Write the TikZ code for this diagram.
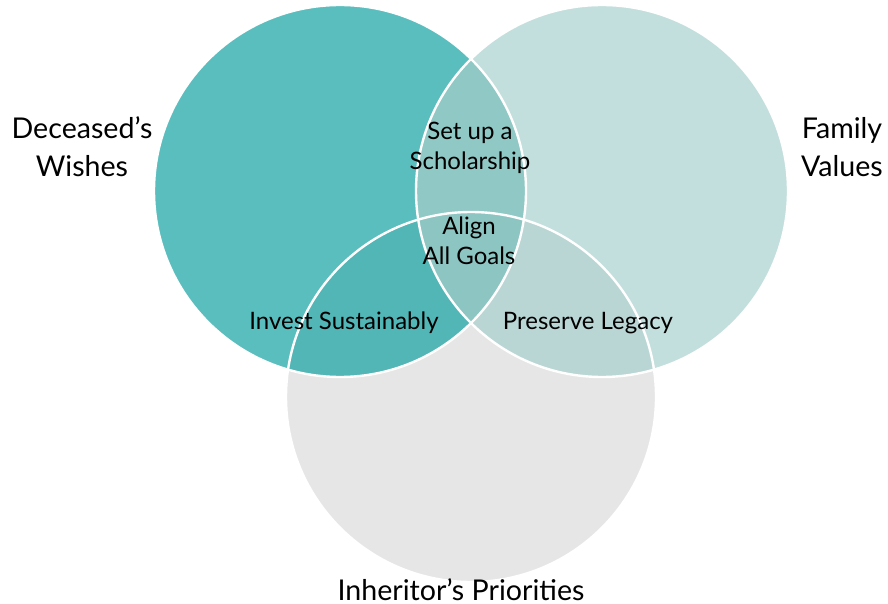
\documentclass[tikz,border=0pt]{standalone}
\usepackage{fontspec}
\setmainfont{Lato}
\definecolor{wishes}{HTML}{5ABDBE}
\definecolor{values}{HTML}{C3DFDD}
\definecolor{prior}{HTML}{E6E6E6}
\definecolor{wishval}{HTML}{8FC8C5}
\definecolor{wishpri}{HTML}{52B5B6}
\definecolor{valpri}{HTML}{B9D6D5}
\definecolor{allthree}{HTML}{8CC5C2}
\tikzset{
  biglabel/.style={align=center, font=\fontsize{14.3}{19}\selectfont},
  smalllabel/.style={align=center, font=\fontsize{12}{15.2}\selectfont},
  rim/.style={draw=white, line width=1.2pt}
}
\begin{document}
\begin{tikzpicture}[x=0.5pt, y=-0.5pt]
\useasboundingbox (0,0) rectangle (888,604);
\def\wishcirc{(340,191) circle [radius=186]}
\def\valcirc{(602,191) circle [radius=186]}
\def\pricirc{(471,397) circle [radius=185]}

\fill[wishes] \wishcirc;
\fill[values] \valcirc;
\fill[prior] \pricirc;
\begin{scope}
  \clip \wishcirc;
  \fill[wishval] \valcirc;
  \fill[wishpri] \pricirc;
\end{scope}
\begin{scope}
  \clip \valcirc;
  \fill[valpri] \pricirc;
\end{scope}
\begin{scope}
  \clip \wishcirc;
  \clip \valcirc;
  \fill[allthree] \pricirc;
\end{scope}
\draw[rim] \wishcirc;
\draw[rim] \valcirc;
\draw[rim] \pricirc;

\node [biglabel] (l1) at (82,147) {Deceased’s\\Wishes};
\node [biglabel] (l2) at (842,147) {Family\\Values};
\node [biglabel] (l3) at (461,590) {Inheritor’s Priorities};
\node [smalllabel] (s1) at (470,148) {Set up a\\Scholarship};
\node [smalllabel] (s2) at (469,241) {Align\\All Goals};
\node [smalllabel] (s3) at (344,323) {Invest Sustainably};
\node [smalllabel] (s4) at (588,323) {Preserve Legacy};
\end{tikzpicture}
\end{document}
